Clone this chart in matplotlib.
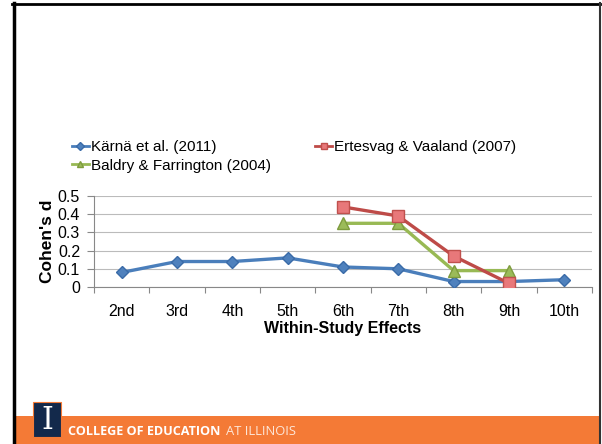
import matplotlib.pyplot as plt
from matplotlib.patches import Rectangle
from matplotlib.lines import Line2D
import numpy as np

plt.rcParams['font.family'] = ['Liberation Sans', 'DejaVu Sans']

# data
grades = ['2nd', '3rd', '4th', '5th', '6th', '7th', '8th', '9th', '10th']
karna = [0.08, 0.14, 0.14, 0.16, 0.11, 0.10, 0.03, 0.03, 0.04]
ertesvag = [None, None, None, None, 0.44, 0.39, 0.17, 0.02, None]
baldry = [None, None, None, None, 0.35, 0.35, 0.09, 0.09, None]
yticks = [0, 0.1, 0.2, 0.3, 0.4, 0.5]

W, H = 602, 444
fig = plt.figure(figsize=(W/100, H/100), dpi=100)

def px(x0, y0, x1, y1):
    # pixel box (top-left origin) -> figure fraction
    return [x0/W, 1 - y1/H, (x1-x0)/W, (y1-y0)/H]

# slide frame
bg = fig.add_axes([0, 0, 1, 1])
bg.set_xlim(0, W)
bg.set_ylim(H, 0)
bg.axis('off')
bg.add_patch(Rectangle((13, 416), 587, 28, color='#F47A36', lw=0))
bg.plot([13.5, 13.5], [3.5, 444], color='black', lw=2.5)
bg.plot([12, 600], [4, 4], color='black', lw=2)
bg.plot([600, 600], [3, 444], color='#333333', lw=1.5)
# logo
bg.add_patch(Rectangle((33, 402), 28, 35, facecolor='#13294B', edgecolor='#F47A36', lw=0.8))
bg.text(47, 420, 'I', color='white', fontsize=22, ha='center', va='center',
        family='DejaVu Serif')
bg.text(68, 431, 'COLLEGE OF EDUCATION', color='white', fontsize=9.1, fontweight='bold',
        ha='left', va='center', family='Open Sans')
bg.text(226, 431, 'AT ILLINOIS', color='#FDE6D8', fontsize=9.4,
        ha='left', va='center', family='Open Sans')

ax = fig.add_axes(px(94, 196, 592, 287))
x = np.arange(len(grades))

def series(vals):
    xs = [i for i, v in enumerate(vals) if v is not None]
    ys = [v for v in vals if v is not None]
    return xs, ys

ax.plot(x, karna, color='#4A7EBB', lw=2.4, marker='D', ms=6,
        mfc='#4F81BD', mec='#3A6BA8', label='Kärnä et al. (2011)', zorder=3)
xs, ys = series(ertesvag)
ax.plot(xs, ys, color='#BE4B48', lw=2.4, marker='s', ms=8,
        mfc='#E8787A', mec='#C0504D', label='Ertesvag & Vaaland (2007)', zorder=4)
xs, ys = series(baldry)
ax.plot(xs, ys, color='#98B954', lw=2.4, marker='^', ms=8,
        mfc='#9BBB59', mec='#7E9C3E', label='Baldry & Farrington (2004)', zorder=3)

ax.set_xlim(-0.5, len(grades) - 0.5)
ax.set_ylim(0, 0.5)
ax.set_yticks(yticks)
ax.set_yticklabels(['0', '0.1', '0.2', '0.3', '0.4', '0.5'])
ax.set_xticks(x)
ax.set_xticklabels(grades)
ax.set_xticks(np.arange(-0.5, len(grades)), minor=True)
ax.tick_params(axis='x', which='major', length=0, labelsize=11.5, pad=12)
ax.tick_params(axis='x', which='minor', length=4, color='#888888', width=0.8)
ax.tick_params(axis='y', length=5, color='#888888', width=0.8, labelsize=11.5, pad=5)
ax.grid(axis='y', color='#BBBBBB', lw=0.8)
ax.set_axisbelow(True)
for s in ['top', 'right']:
    ax.spines[s].set_visible(False)
ax.spines['left'].set_color('#888888')
ax.spines['bottom'].set_color('#888888')
ax.set_xlabel('Within-Study Effects', fontsize=11.5, fontweight='bold', labelpad=2)
ax.set_ylabel("Cohen's d", fontsize=12.5, fontweight='bold', labelpad=2)

handles = [Line2D([], [], color='#4A7EBB', lw=2, marker='D', ms=4, mfc='#4F81BD', mec='#3A6BA8'),
           Line2D([], [], color='#98B954', lw=2, marker='^', ms=5, mfc='#9BBB59', mec='#7E9C3E'),
           Line2D([], [], color='#BE4B48', lw=2, marker='s', ms=5, mfc='#E8787A', mec='#C0504D')]
labels = ['Kärnä et al. (2011)', 'Baldry & Farrington (2004)', 'Ertesvag & Vaaland (2007)']
fig.legend(handles, labels, loc='upper left', bbox_to_anchor=(72/W, 1 - 140/H), ncol=2,
           frameon=False, fontsize=11, handlelength=1.1, handletextpad=0.15,
           columnspacing=2.9, labelspacing=0.3, borderaxespad=0, borderpad=0)

fig.savefig('out.png', dpi=100)
